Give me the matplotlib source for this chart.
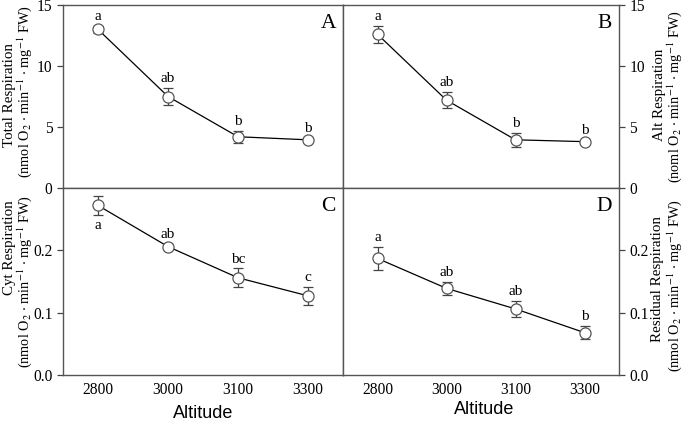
import matplotlib
matplotlib.use("Agg")
import matplotlib.pyplot as plt
from matplotlib.ticker import FormatStrFormatter

plt.rcParams['font.family'] = ['Liberation Serif', 'DejaVu Serif']
plt.rcParams['mathtext.fontset'] = 'stix'

altitude = ['2800', '3000', '3100', '3300']

total = [13.0, 7.5, 4.2, 3.95]
total_err = [0.3, 0.7, 0.5, 0.2]
total_sig = ['a', 'ab', 'b', 'b']

alt = [12.6, 7.2, 3.95, 3.8]
alt_err = [0.7, 0.65, 0.55, 0.15]
alt_sig = ['a', 'ab', 'b', 'b']

cyt = [0.272, 0.206, 0.156, 0.127]
cyt_err = [0.015, 0.004, 0.015, 0.014]
cyt_sig = ['a', 'ab', 'bc', 'c']

resid = [0.187, 0.139, 0.106, 0.068]
resid_err = [0.018, 0.01, 0.013, 0.011]
resid_sig = ['a', 'ab', 'ab', 'b']

unit = r'(nmol O$_2$ $\cdot$ min$^{-1}$ $\cdot$ mg$^{-1}$ FW)'
unit_typo = r'(noml O$_2$ $\cdot$ min$^{-1}$ $\cdot$ mg$^{-1}$ FW)'

fig = plt.figure(figsize=(6.85, 4.24), dpi=100)
W, H = 685.0, 424.0
x0, xm, x1 = 63, 343, 619
y0, ym, y1 = 5, 188, 375


def px(x, y):
    return x / W, 1 - y / H


def panel(rect, vals, errs, sig, letter, ylim, yticks, right, bottom, below=()):
    ax = fig.add_axes(rect)
    xs = list(range(len(vals)))
    ax.plot(xs, vals, color='black', lw=0.9, zorder=2)
    ax.errorbar(xs, vals, yerr=errs, fmt='none', ecolor='#444444',
                elinewidth=0.9, capsize=3.5, capthick=0.9, zorder=3)
    ax.plot(xs, vals, 'o', ms=8, mfc='white', mec='#555555', mew=0.9, zorder=4)
    for i, (v, e, s) in enumerate(zip(vals, errs, sig)):
        if i in below:
            ax.annotate(s, (i, v - e), xytext=(0, -3), textcoords='offset points',
                        ha='center', va='top', fontsize=11)
        else:
            ax.annotate(s, (i, v + e), xytext=(0, 2), textcoords='offset points',
                        ha='center', va='bottom', fontsize=11)
    ax.set_xlim(-0.5, 3.5)
    ax.set_ylim(*ylim)
    ax.set_yticks(yticks)
    ax.text(0.975, 0.95, letter, transform=ax.transAxes, ha='right', va='top', fontsize=15.5)
    for sp in ax.spines.values():
        sp.set_color('#555555')
        sp.set_linewidth(1.0)
    if right:
        ax.yaxis.tick_right()
    ax.tick_params(axis='y', direction='out', length=4, width=0.9,
                   labelsize=11.2, color='#444444')
    if bottom:
        ax.set_xticks(xs)
        ax.set_xticklabels(altitude)
        ax.tick_params(axis='x', direction='out', length=0, labelsize=11.2, pad=5)
    else:
        ax.set_xticks([])
    return ax


panel([x0 / W, 1 - ym / H, (xm - x0) / W, (ym - y0) / H], total, total_err, total_sig,
      'A', (0, 15), [0, 5, 10, 15], False, False)
panel([xm / W, 1 - ym / H, (x1 - xm) / W, (ym - y0) / H], alt, alt_err, alt_sig,
      'B', (0, 15), [0, 5, 10, 15], True, False)
axc = panel([x0 / W, 1 - y1 / H, (xm - x0) / W, (y1 - ym) / H], cyt, cyt_err, cyt_sig,
            'C', (0, 0.3), [0.0, 0.1, 0.2], False, True, below=(0,))
axd = panel([xm / W, 1 - y1 / H, (x1 - xm) / W, (y1 - ym) / H], resid, resid_err, resid_sig,
            'D', (0, 0.3), [0.0, 0.1, 0.2], True, True)
axc.yaxis.set_major_formatter(FormatStrFormatter('%.1f'))
axd.yaxis.set_major_formatter(FormatStrFormatter('%.1f'))

# y axis titles, two lines each (name line, unit line)
labels = [
    ('Total Respiration', 10, 95, 10.8), (unit, 25, 92, 10.3),
    ('Alt Respiration', 659, 95, 10.8), (unit_typo, 675, 97, 10.3),
    ('Cyt Respiration', 10, 248, 10.8), (unit, 25, 282, 10.3),
    ('Residual Respiration', 657, 279, 10.8), (unit, 675, 286, 10.3),
]
for txt, lx, ly, fs in labels:
    fig.text(*px(lx, ly), txt, rotation=90, ha='center', va='center', fontsize=fs)

fig.text(*px(203, 413), 'Altitude', family='Liberation Sans', fontsize=13,
         ha='center', va='center')
fig.text(*px(484, 410), 'Altitude', family='Liberation Sans', fontsize=13,
         ha='center', va='center')

fig.savefig('out.png', dpi=100)
